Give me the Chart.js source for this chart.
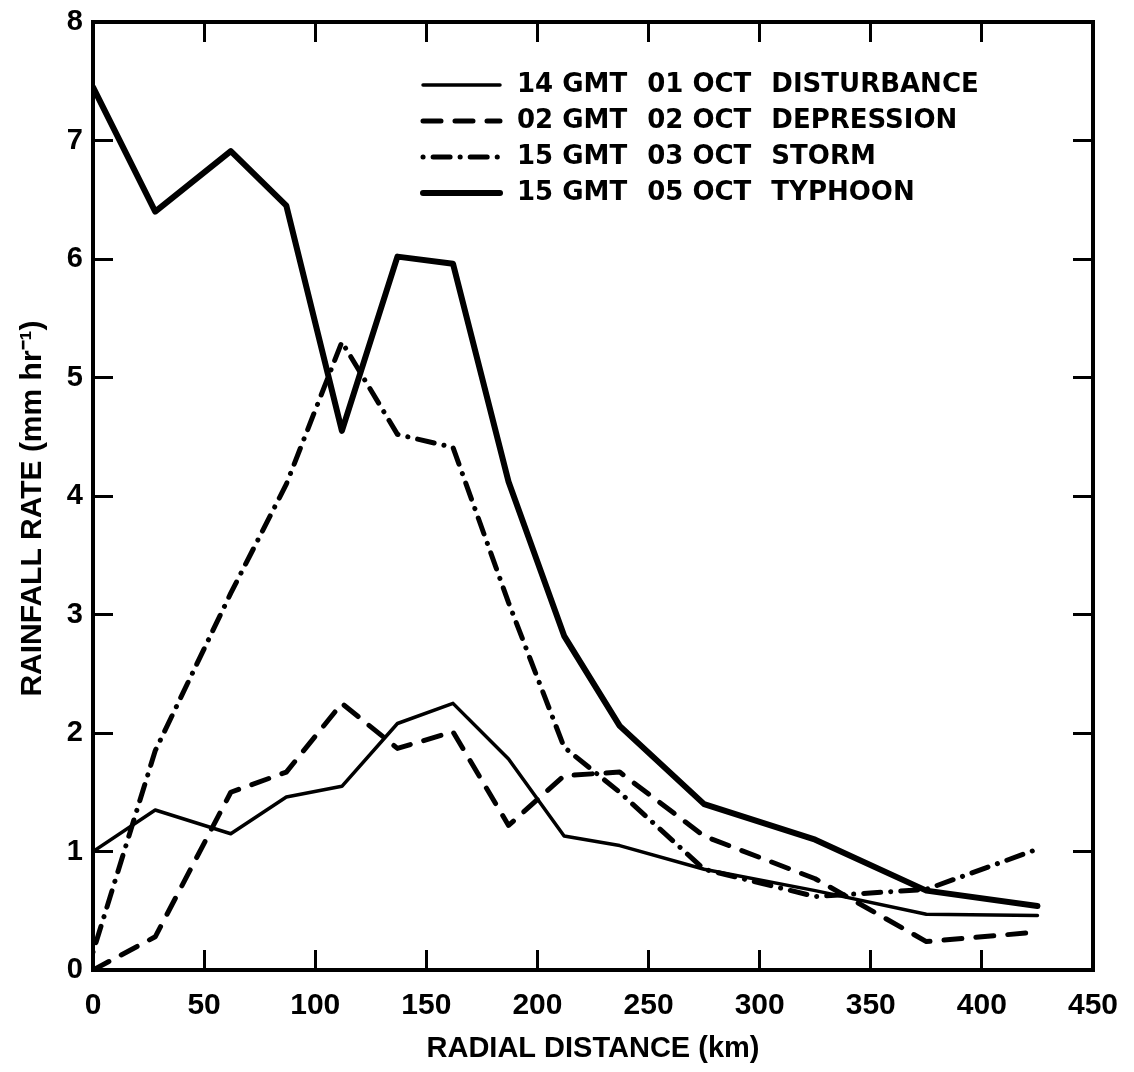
<!DOCTYPE html>
<html>
<head>
<meta charset="utf-8">
<script src="https://cdn.jsdelivr.net/npm/chart.js@4/dist/chart.umd.min.js"></script>
<style>
  html, body { margin: 0; padding: 0; background: #fff; }
  canvas { display: block; }
</style>
</head>
<body>
<canvas id="rainChart" width="1134" height="1072"></canvas>
<script>
/* global Chart */

// radial distance (km) of each point
const distances = [0, 28, 62, 87, 112, 137, 162, 187, 212, 237, 275, 325, 375, 425];
// rainfall rate (mm/hr)
const disturbance = [1.0, 1.35, 1.15, 1.46, 1.55, 2.08, 2.25, 1.78, 1.13, 1.05, 0.85, 0.67, 0.47, 0.46];
const depression = [0.0, 0.28, 1.5, 1.67, 2.25, 1.87, 2.01, 1.22, 1.64, 1.67, 1.13, 0.77, 0.24, 0.32];
const storm = [0.15, 1.85, 3.18, 4.1, 5.3, 4.52, 4.41, 3.1, 1.88, 1.5, 0.85, 0.62, 0.68, 1.02];
const typhoon = [7.45, 6.4, 6.91, 6.45, 4.55, 6.02, 5.96, 4.12, 2.82, 2.06, 1.40, 1.10, 0.67, 0.54];

const legendTimes = ['14 GMT', '02 GMT', '15 GMT', '15 GMT'];
const legendDates = ['01 OCT', '02 OCT', '03 OCT', '05 OCT'];
const legendStages = ['DISTURBANCE', 'DEPRESSION', 'STORM', 'TYPHOON'];

const xMax = 450, xStep = 50;
const yMax = 8, yStep = 1;

const tickFont = 'Liberation Sans, Arial, sans-serif';

function toPoints(values) {
  return distances.map((d, i) => ({x: d, y: values[i]}));
}

function lineSet(values, width, dash) {
  return {
    data: toPoints(values),
    borderColor: '#000',
    backgroundColor: '#000',
    borderWidth: width,
    borderDash: dash,
    borderCapStyle: 'round',
    borderJoinStyle: 'round',
    pointRadius: 0,
    tension: 0,
    fill: false
  };
}

// legend drawn inside the frame, top right
const innerLegend = {
  id: 'innerLegend',
  afterDatasetsDraw(chart) {
    const ctx = chart.ctx;
    const area = chart.chartArea;
    const x0 = area.left + 330;
    const lineLen = 77;
    const textX = x0 + lineLen + 17;
    const rowY = area.top + 63;
    const rowH = 36;
    ctx.save();
    ctx.font = 'bold 26px "DejaVu Sans", sans-serif';
    ctx.fillStyle = '#000';
    ctx.textBaseline = 'middle';
    ctx.textAlign = 'left';
    const w1 = Math.max(...legendTimes.map(t => ctx.measureText(t).width));
    const w2 = Math.max(...legendDates.map(t => ctx.measureText(t).width));
    const col2 = textX + w1 + 20;
    const col3 = col2 + w2 + 20;
    chart.data.datasets.forEach((ds, i) => {
      const y = rowY + i * rowH;
      ctx.beginPath();
      ctx.strokeStyle = '#000';
      ctx.lineWidth = ds.borderWidth;
      ctx.lineCap = ds.borderCapStyle;
      ctx.setLineDash(ds.borderDash || []);
      ctx.moveTo(x0, y);
      ctx.lineTo(x0 + lineLen, y);
      ctx.stroke();
      ctx.setLineDash([]);
      ctx.fillText(legendTimes[i], textX, y);
      ctx.fillText(legendDates[i], col2, y);
      ctx.fillText(legendStages[i], col3, y);
    });
    ctx.restore();
  }
};

const frameGrid = {
  drawOnChartArea: false,
  drawTicks: true,
  tickLength: -20,
  lineWidth: 3,
  color: '#000'
};
const frameBorder = { display: true, color: '#000', width: 4 };

// keep the frame where it is: no extra room for overhanging labels
function noOverhang(scale) {
  scale.paddingTop = 0;
  scale.paddingBottom = 0;
  scale.paddingLeft = 0;
  scale.paddingRight = 0;
}

var myChart = new Chart(document.getElementById('rainChart').getContext('2d'), {
  type: 'line',
  data: {
    datasets: [
      lineSet(disturbance, 3.5, []),
      lineSet(depression, 5, [18, 14]),
      lineSet(storm, 5, [0.1, 10, 17, 10]),
      lineSet(typhoon, 6, [])
    ]
  },
  plugins: [innerLegend],
  options: {
    responsive: false,
    animation: false,
    devicePixelRatio: 1,
    layout: { padding: { left: 0, top: 22, right: 41, bottom: 0 } },
    plugins: {
      legend: { display: false },
      tooltip: { enabled: false }
    },
    scales: {
      x: {
        type: 'linear',
        position: 'bottom',
        min: 0,
        max: xMax,
        grid: frameGrid,
        border: frameBorder,
        ticks: {
          stepSize: xStep,
          autoSkip: false,
          maxRotation: 0,
          padding: 38,
          color: '#000',
          font: { family: tickFont, size: 30, weight: 'bold' }
        },
        title: {
          display: true,
          text: 'RADIAL DISTANCE (km)',
          color: '#000',
          padding: { top: 0, bottom: 6 },
          font: { family: tickFont, size: 29, weight: 'bold' }
        },
        afterFit(scale) { scale.height = 102; noOverhang(scale); }
      },
      x2: {
        type: 'linear',
        position: 'top',
        min: 0,
        max: xMax,
        grid: frameGrid,
        border: frameBorder,
        ticks: { stepSize: xStep, display: false, autoSkip: false },
        afterFit(scale) { scale.height = 0; noOverhang(scale); }
      },
      y: {
        position: 'left',
        min: 0,
        max: yMax,
        grid: frameGrid,
        border: frameBorder,
        ticks: {
          stepSize: yStep,
          padding: 30,
          color: '#000',
          font: { family: tickFont, size: 29, weight: 'bold' }
        },
        title: {
          display: true,
          text: 'RAINFALL RATE (mm hr\u207B\u00B9)   ',
          color: '#000',
          padding: { top: 15, bottom: 0 },
          font: { family: tickFont, size: 30, weight: 'bold' }
        },
        afterFit(scale) { scale.width = 93; noOverhang(scale); }
      },
      y2: {
        position: 'right',
        min: 0,
        max: yMax,
        grid: frameGrid,
        border: frameBorder,
        ticks: { stepSize: yStep, display: false },
        afterFit(scale) { scale.width = 0; noOverhang(scale); }
      }
    }
  }
});
</script>
</body>
</html>
